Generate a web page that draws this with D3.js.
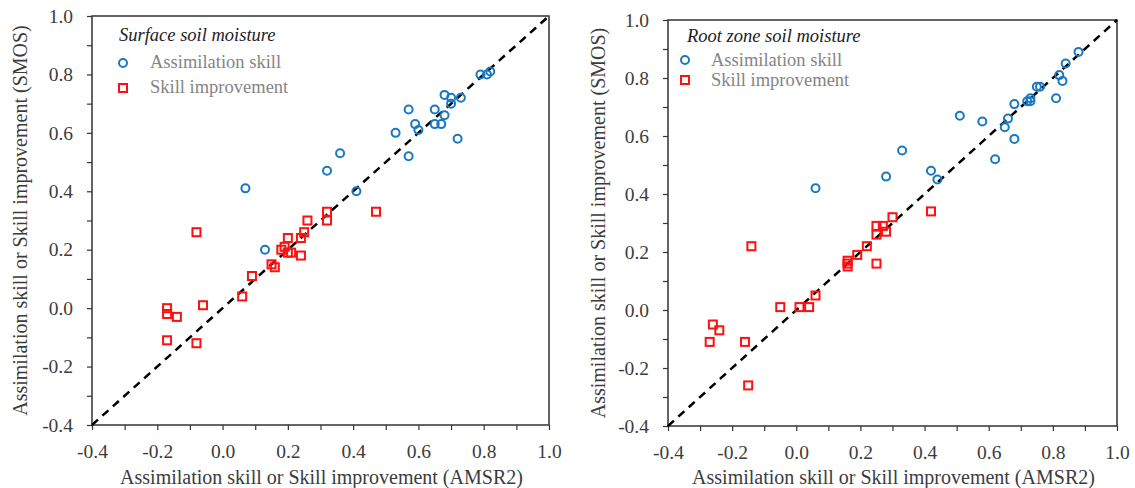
<!DOCTYPE html>
<html>
<head>
<meta charset="utf-8">
<script src="https://cdn.jsdelivr.net/npm/d3@7"></script>
<style>
  html, body { margin: 0; padding: 0; background: #fff; }
  svg { display: block; }
  text { font-family: "Liberation Serif", "Times New Roman", serif; }
</style>
</head>
<body>
<svg id="chart" width="1135" height="488"></svg>
<script>
// ---- Data ----
const tickValues = [-0.4, -0.2, 0.0, 0.2, 0.4, 0.6, 0.8, 1.0];
const minorTickValues = [-0.4, -0.3, -0.2, -0.1, 0.0, 0.1, 0.2, 0.3, 0.4, 0.5, 0.6, 0.7, 0.8, 0.9, 1.0];
const axisDomain = [-0.4, 1.0];
const xTitle = "Assimilation skill or Skill improvement (AMSR2)";
const yTitle = "Assimilation skill or Skill improvement (SMOS)";
const seriesNames = ["Assimilation skill", "Skill improvement"];
const panelTitles = ["Surface soil moisture", "Root zone soil moisture"];

// Surface soil moisture panel: [AMSR2, SMOS]
const surfaceSkill = [
  [0.07, 0.41], [0.13, 0.20], [0.32, 0.47], [0.36, 0.53], [0.41, 0.40],
  [0.53, 0.60], [0.57, 0.68], [0.57, 0.52], [0.59, 0.63], [0.60, 0.61],
  [0.65, 0.68], [0.65, 0.63], [0.67, 0.63], [0.68, 0.66], [0.68, 0.73],
  [0.70, 0.72], [0.70, 0.70], [0.73, 0.72], [0.72, 0.58], [0.79, 0.80],
  [0.81, 0.80], [0.82, 0.81]
];
const surfaceImprovement = [
  [-0.08, 0.26], [-0.17, 0.00], [-0.17, -0.02], [-0.14, -0.03], [-0.17, -0.11],
  [-0.08, -0.12], [-0.06, 0.01], [0.06, 0.04], [0.09, 0.11], [0.15, 0.15],
  [0.16, 0.14], [0.18, 0.20], [0.19, 0.21], [0.20, 0.24], [0.20, 0.19],
  [0.21, 0.19], [0.24, 0.18], [0.24, 0.24], [0.25, 0.26], [0.26, 0.30],
  [0.32, 0.33], [0.32, 0.30], [0.47, 0.33]
];
// Root zone soil moisture panel: [AMSR2, SMOS]
const rootSkill = [
  [0.06, 0.42], [0.28, 0.46], [0.33, 0.55], [0.42, 0.48], [0.44, 0.45],
  [0.51, 0.67], [0.58, 0.65], [0.62, 0.52], [0.65, 0.63], [0.66, 0.66],
  [0.68, 0.59], [0.68, 0.71], [0.72, 0.72], [0.73, 0.72], [0.73, 0.73],
  [0.75, 0.77], [0.76, 0.77], [0.81, 0.73], [0.82, 0.81], [0.83, 0.79],
  [0.84, 0.85], [0.88, 0.89]
];
const rootImprovement = [
  [-0.14, 0.22], [-0.26, -0.05], [-0.24, -0.07], [-0.27, -0.11], [-0.16, -0.11],
  [-0.15, -0.26], [-0.05, 0.01], [0.01, 0.01], [0.04, 0.01], [0.06, 0.05],
  [0.16, 0.17], [0.16, 0.16], [0.16, 0.15], [0.19, 0.19], [0.22, 0.22],
  [0.25, 0.16], [0.25, 0.26], [0.25, 0.29], [0.27, 0.29], [0.28, 0.27],
  [0.30, 0.32], [0.42, 0.34]
];

// ---- Layout ----
const panels = [
  { left: 92, right: 549, top: 16, bottom: 425, title: panelTitles[0], skill: surfaceSkill, impr: surfaceImprovement,
    mx: 123, titleX: 119, titleY: 41, c1: 63, c2: 88, t1: 68, t2: 93, textX: 150, yTitleX: 20 },
  { left: 668, right: 1117, top: 20, bottom: 426, title: panelTitles[1], skill: rootSkill, impr: rootImprovement,
    mx: 685, titleX: 687, titleY: 42, c1: 60, c2: 80, t1: 66, t2: 86, textX: 711, yTitleX: 598 }
];

const blue = "#1a78c2";
const red = "#ff1010";
const axisColor = "#333";
const labelColor = "#3c3c3c";
const fmt = d => d.toFixed(1);

const svg = d3.select("#chart");

panels.forEach((p) => {
  const x = d3.scaleLinear().domain(axisDomain).range([p.left, p.right]);
  const y = d3.scaleLinear().domain(axisDomain).range([p.bottom, p.top]);
  const g = svg.append("g");

  // tick marks every 0.1 (outward)
  const xAxis = d3.axisBottom(x).tickValues(minorTickValues).tickSize(5).tickFormat("");
  const yAxis = d3.axisLeft(y).tickValues(minorTickValues).tickSize(5).tickFormat("");
  const gx = g.append("g").attr("transform", `translate(0,${p.bottom})`).call(xAxis);
  const gy = g.append("g").attr("transform", `translate(${p.left},0)`).call(yAxis);
  [gx, gy].forEach(a => {
    a.select(".domain").remove();
    a.selectAll(".tick line").attr("stroke", axisColor).attr("stroke-width", 1.2);
  });

  // tick labels every 0.2
  const xLab = d3.axisBottom(x).tickValues(tickValues).tickSize(0).tickPadding(19).tickFormat(fmt);
  const yLab = d3.axisLeft(y).tickValues(tickValues).tickSize(0).tickPadding(19).tickFormat(fmt);
  const lx = g.append("g").attr("transform", `translate(0,${p.bottom})`).call(xLab);
  const ly = g.append("g").attr("transform", `translate(${p.left},0)`).call(yLab);
  [lx, ly].forEach(a => {
    a.attr("font-family", "Liberation Serif, serif");
    a.select(".domain").remove();
    a.selectAll("text").attr("font-family", "Liberation Serif, serif")
      .attr("font-size", 19.5).attr("fill", labelColor);
  });
  lx.selectAll("text").attr("dy", "0.71em");

  // frame
  g.append("rect")
    .attr("x", p.left).attr("y", p.top)
    .attr("width", p.right - p.left).attr("height", p.bottom - p.top)
    .attr("fill", "none").attr("stroke", axisColor).attr("stroke-width", 1.5);

  // 1:1 line
  g.append("line")
    .attr("x1", x(axisDomain[0])).attr("y1", y(axisDomain[0]))
    .attr("x2", x(axisDomain[1])).attr("y2", y(axisDomain[1]))
    .attr("stroke", "#000").attr("stroke-width", 2.5).attr("stroke-dasharray", "8,6");

  // skill improvement squares
  g.append("g").selectAll("rect").data(p.impr).join("rect")
    .attr("x", d => x(d[0]) - 4).attr("y", d => y(d[1]) - 4)
    .attr("width", 8).attr("height", 8)
    .attr("fill", "none").attr("stroke", red).attr("stroke-width", 2);

  // assimilation skill circles
  g.append("g").selectAll("circle").data(p.skill).join("circle")
    .attr("cx", d => x(d[0])).attr("cy", d => y(d[1])).attr("r", 4)
    .attr("fill", "none").attr("stroke", blue).attr("stroke-width", 2);

  // axis titles
  g.append("text")
    .attr("x", (p.left + p.right) / 2 + 1).attr("y", 484)
    .attr("text-anchor", "middle").attr("font-size", 20).attr("fill", labelColor)
    .text(xTitle);
  g.append("text")
    .attr("transform", `translate(${p.yTitleX + 7},${(p.top + p.bottom) / 2}) rotate(-90)`)
    .attr("text-anchor", "middle").attr("font-size", 20).attr("fill", labelColor)
    .text(yTitle);

  // legend
  const lg = g.append("g");
  lg.append("text")
    .attr("x", p.titleX).attr("y", p.titleY)
    .attr("font-style", "italic").attr("font-size", 18.5).attr("fill", "#222")
    .text(p.title);
  lg.append("circle")
    .attr("cx", p.mx).attr("cy", p.c1).attr("r", 4)
    .attr("fill", "none").attr("stroke", blue).attr("stroke-width", 2);
  lg.append("rect")
    .attr("x", p.mx - 4).attr("y", p.c2 - 4).attr("width", 8).attr("height", 8)
    .attr("fill", "none").attr("stroke", red).attr("stroke-width", 2);
  lg.append("text")
    .attr("x", p.textX).attr("y", p.t1)
    .attr("font-size", 18.5).attr("fill", "#858585")
    .text(seriesNames[0]);
  lg.append("text")
    .attr("x", p.textX).attr("y", p.t2)
    .attr("font-size", 18.5).attr("fill", "#858585")
    .text(seriesNames[1]);
});
</script>
</body>
</html>
